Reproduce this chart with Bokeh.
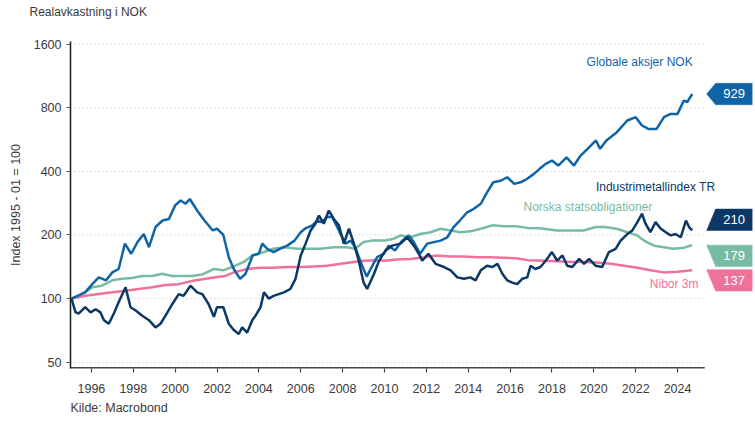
from bokeh.plotting import figure
from bokeh.models import FixedTicker, PrintfTickFormatter, Title
from bokeh.core.properties import value
from bokeh.embed import file_html
from bokeh.resources import INLINE

# ---------------- data (index, 1995-01 = 100) ----------------
global_x = [1995.05, 1995.7, 1996.04, 1996.35, 1996.7, 1997.0, 1997.3, 1997.6, 1997.9, 1998.2,
            1998.5, 1998.75, 1999.06, 1999.4, 1999.7, 2000.0, 2000.26, 2000.5, 2000.7, 2001.05,
            2001.4, 2001.8, 2002.0, 2002.3, 2002.56, 2002.8, 2003.1, 2003.36, 2003.7, 2004.0,
            2004.16, 2004.4, 2004.7, 2005.0, 2005.35, 2005.7, 2006.0, 2006.2, 2006.55, 2006.8,
            2007.0, 2007.26, 2007.5, 2007.74, 2007.9, 2008.14, 2008.38, 2008.6, 2008.86, 2009.15,
            2009.45, 2009.65, 2009.97, 2010.2, 2010.5, 2010.85, 2011.16, 2011.4, 2011.7, 2012.04,
            2012.36, 2012.68, 2013.0, 2013.3, 2013.6, 2013.95, 2014.27, 2014.6, 2014.9, 2015.2,
            2015.55, 2015.86, 2016.2, 2016.5, 2016.8, 2017.14, 2017.4, 2017.7, 2018.0, 2018.3,
            2018.7, 2019.05, 2019.37, 2019.7, 2020.1, 2020.3, 2020.6, 2021.1, 2021.6, 2022.0,
            2022.3, 2022.6, 2023.0, 2023.35, 2023.67, 2024.0, 2024.3, 2024.46, 2024.7]
global_y = [100, 107, 117, 126, 122, 133, 138, 182, 163, 185,
            202, 175, 218, 234, 238, 276, 291, 281, 296, 261,
            234, 210, 214, 200, 157, 138, 124, 131, 160, 163,
            182, 172, 166, 172, 178, 188, 206, 214, 222, 234,
            230, 243, 243, 218, 202, 182, 188, 175, 149, 127,
            145, 157, 163, 178, 169, 188, 199, 185, 163, 182,
            185, 188, 195, 218, 234, 256, 266, 281, 318, 355,
            361, 375, 349, 355, 368, 389, 410, 434, 450, 426,
            466, 426, 475, 511, 560, 511, 560, 613, 696, 722,
            659, 635, 635, 722, 748, 748, 865, 850, 929]

metal_x = [1995.05, 1995.24, 1995.4, 1995.7, 1995.96, 1996.2, 1996.43, 1996.6, 1996.83, 1997.07,
           1997.3, 1997.63, 1997.87, 1998.1, 1998.43, 1998.75, 1999.06, 1999.3, 1999.54, 1999.86,
           2000.17, 2000.4, 2000.73, 2001.05, 2001.3, 2001.6, 2001.85, 2002.0, 2002.3, 2002.56,
           2002.8, 2003.04, 2003.2, 2003.44, 2003.68, 2003.84, 2004.08, 2004.24, 2004.47, 2004.7,
           2004.95, 2005.2, 2005.5, 2005.75, 2006.0, 2006.23, 2006.47, 2006.7, 2006.87, 2007.1,
           2007.34, 2007.58, 2007.82, 2008.06, 2008.3, 2008.54, 2008.77, 2009.0, 2009.17, 2009.5,
           2009.73, 2010.05, 2010.37, 2010.77, 2011.08, 2011.4, 2011.64, 2011.8, 2012.1, 2012.44,
           2012.84, 2013.16, 2013.48, 2013.8, 2014.1, 2014.35, 2014.6, 2014.9, 2015.15, 2015.4,
           2015.63, 2015.86, 2016.1, 2016.34, 2016.58, 2016.82, 2016.98, 2017.2, 2017.45, 2017.7,
           2018.0, 2018.25, 2018.5, 2018.73, 2018.97, 2019.3, 2019.53, 2019.77, 2020.08, 2020.4,
           2020.72, 2021.04, 2021.28, 2021.6, 2021.84, 2022.08, 2022.3, 2022.47, 2022.7, 2022.95,
           2023.2, 2023.44, 2023.67, 2023.9, 2024.15, 2024.4, 2024.55, 2024.7]
metal_y = [100, 86, 85, 91, 86, 89, 86, 79, 76, 85,
           96, 113, 91, 88, 83, 79, 73, 76, 83, 94,
           105, 103, 115, 107, 105, 94, 82, 91, 91, 76,
           71, 68, 73, 69, 79, 83, 91, 107, 100, 103,
           105, 107, 111, 124, 160, 182, 210, 226, 247, 226,
           261, 238, 222, 182, 214, 182, 151, 119, 111, 131,
           150, 169, 178, 182, 195, 178, 163, 151, 163, 146,
           141, 136, 126, 124, 126, 122, 136, 143, 141, 146,
           131, 122, 119, 117, 124, 126, 143, 138, 141, 151,
           166, 151, 160, 143, 141, 154, 146, 154, 143, 141,
           166, 172, 188, 202, 210, 230, 252, 226, 206, 230,
           214, 206, 199, 202, 195, 234, 218, 210]

bonds_x = [1995.05, 1995.56, 1996.04, 1996.5, 1997.0, 1997.47, 1997.95, 1998.43, 1998.9, 1999.38,
           1999.86, 2000.34, 2000.8, 2001.3, 2001.85, 2002.3, 2002.88, 2003.28, 2003.68, 2004.24,
           2004.7, 2005.2, 2005.83, 2006.47, 2006.94, 2007.58, 2008.2, 2008.6, 2009.0, 2009.4,
           2010.0, 2010.45, 2010.77, 2011.25, 2011.7, 2012.2, 2012.68, 2013.16, 2013.63, 2014.1,
           2014.6, 2015.15, 2015.7, 2016.3, 2016.82, 2017.4, 2017.6, 2018.25, 2018.9, 2019.5,
           2020.1, 2020.5, 2021.1, 2021.6, 2022.08, 2022.4, 2022.87, 2023.35, 2023.8, 2024.3,
           2024.7]
bonds_y = [100, 105, 113, 115, 122, 124, 125, 128, 128, 131,
           128, 128, 128, 130, 138, 136, 143, 149, 160, 166,
           172, 175, 172, 172, 172, 175, 175, 172, 185, 188,
           188, 192, 199, 195, 202, 206, 214, 210, 206, 208,
           214, 222, 220, 220, 216, 215, 214, 210, 210, 210,
           218, 218, 214, 206, 199, 188, 178, 175, 172, 174,
           179]

nibor_x = [1995.05, 1995.7, 1996.35, 1997.0, 1997.63, 1998.26, 1998.9, 1999.54, 2000.17, 2000.8,
           2001.45, 2001.93, 2002.4, 2002.8, 2003.44, 2004.08, 2004.7, 2005.35, 2006.0, 2006.63,
           2007.26, 2007.9, 2008.54, 2009.0, 2009.65, 2010.0, 2010.6, 2011.25, 2011.9, 2012.5,
           2013.16, 2013.8, 2014.43, 2015.07, 2015.7, 2016.3, 2016.82, 2017.6, 2018.25, 2018.9,
           2019.5, 2020.15, 2020.8, 2021.44, 2022.08, 2022.7, 2023.35, 2024.0, 2024.7]
nibor_y = [100, 103, 105, 107, 109, 111, 113, 116, 117, 121,
           124, 126, 128, 133, 138, 140, 140, 141, 141, 142,
           143, 146, 149, 151, 152, 151, 153, 154, 157, 160,
           158, 158, 157, 157, 156, 155, 152, 151, 150, 149,
           149, 148, 146, 143, 140, 136, 133, 134, 136]

series_names = ["Globale aksjer NOK", "Industrimetallindex TR",
                "Norska statsobligationer", "Nibor 3m"]
end_values = [929, 210, 179, 137]
year_ticks = [1996, 1998, 2000, 2002, 2004, 2006, 2008, 2010,
              2012, 2014, 2016, 2018, 2020, 2022, 2024]
y_ticks = [50, 100, 200, 400, 800, 1600]
title_text = "Realavkastning i NOK"
source_text = "Kilde: Macrobond"
y_label = "Index 1995 - 01 = 100"

# ---------------- style / layout ----------------
FONT = "Liberation Sans"
TXT = "#3a3a3a"
C_GLOBAL = "#0f64a8"
C_METAL = "#0c3865"
C_BONDS = "#78bba3"
C_NIBOR = "#f0729a"
X0, X1 = 1995.0, 2027.58
Y0, Y1 = 46.67, 1646.0
X_AXIS_END = 2025.3
PX = 63.6  # pixels per doubling

p = figure(width=755, height=421, x_range=(X0, X1), y_range=(Y0, Y1),
           y_axis_type="log", output_backend="svg", toolbar_location=None,
           min_border_left=70, min_border_right=3, min_border_top=41,
           min_border_bottom=53)
p.outline_line_color = None
p.grid.visible = False
p.background_fill_color = "white"
p.border_fill_color = "white"

# real title (outermost) and an invisible spacer between it and the frame
p.title.text = title_text
p.title.align = "left"
p.title.offset = -41
p.title.text_font = FONT
p.title.text_font_size = "12px"
p.title.text_font_style = "normal"
p.title.text_color = TXT
p.title.standoff = 2
p.add_layout(Title(text=" ", text_font_size="1px", standoff=19), "above")

# x axis
xa = p.xaxis[0]
xa.ticker = FixedTicker(ticks=year_ticks)
xa.axis_line_color = None
xa.major_tick_line_color = "#444444"
xa.major_tick_line_width = 1.2
xa.major_tick_out = 4
xa.major_tick_in = 0
xa.minor_tick_line_color = None
xa.major_label_text_font = FONT
xa.major_label_text_font_size = "12.5px"
xa.major_label_text_color = TXT
xa.major_label_standoff = 11

p.add_layout(Title(text=source_text, align="left", text_font=FONT,
                   text_font_size="12.5px", text_font_style="normal",
                   text_color=TXT, standoff=7), "below")

# y axis
ya = p.yaxis[0]
ya.ticker = FixedTicker(ticks=y_ticks)
ya.formatter = PrintfTickFormatter(format="%d")
ya.axis_line_color = "#1a1a1a"
ya.axis_line_width = 1.5
ya.major_tick_line_color = "#555555"
ya.major_tick_line_width = 1.2
ya.major_tick_out = 4
ya.major_tick_in = 0
ya.minor_tick_line_color = None
ya.major_label_text_font = FONT
ya.major_label_text_font_size = "12.5px"
ya.major_label_text_color = TXT
ya.major_label_standoff = 5
ya.axis_label = y_label
ya.axis_label_text_font = FONT
ya.axis_label_text_font_size = "12.5px"
ya.axis_label_text_font_style = "normal"
ya.axis_label_text_color = TXT
ya.axis_label_standoff = 8

# dotted gridlines and x baseline (stop before the value tags)
p.segment(x0=[X0] * len(y_ticks), y0=y_ticks, x1=[X_AXIS_END] * len(y_ticks), y1=y_ticks,
          line_color="#bdbdbd", line_width=1, line_dash="1 3")
p.segment(x0=[X0], y0=[Y0], x1=[X_AXIS_END], y1=[Y0], line_color="#444444", line_width=3)

# series
p.line(nibor_x, nibor_y, line_color=C_NIBOR, line_width=2.5)
p.line(bonds_x, bonds_y, line_color=C_BONDS, line_width=2.5)
p.line(global_x, global_y, line_color=C_GLOBAL, line_width=2.5)
p.line(metal_x, metal_y, line_color=C_METAL, line_width=2.5)

# series labels
label_pos = [(2024.72, 1310, "right"), (2020.1, 336, "left"),
             (2022.79, 270, "right"), (2025.0, 117.4, "right")]
label_colors = [C_GLOBAL, C_METAL, C_BONDS, C_NIBOR]
for name, (lx, ly, al), col in zip(series_names, label_pos, label_colors):
    p.text(x=[lx], y=[ly], text=[name], text_color=col, text_align=al,
           text_baseline="middle", text_font=value(FONT), text_font_size="12px")

# value tags
tag_shift_px = [0, -10.7, 10.7, 10.7]
HALF = 10.7
x_tip, x_box, x_right = 2025.39, 2025.82, X1
for v, s, col in zip(end_values, tag_shift_px, label_colors):
    c = v * 2 ** (-s / PX)
    top = c * 2 ** (HALF / PX)
    bot = c * 2 ** (-HALF / PX)
    p.patch(x=[x_tip, x_box, x_right, x_right, x_box], y=[v, top, top, bot, bot],
            fill_color=col, line_color=col, line_width=0.5)
    p.text(x=[(x_box + x_right) / 2], y=[c], text=[str(v)], text_color="white",
           text_align="center", text_baseline="middle", text_font=value(FONT),
           text_font_size="13px")

open("out.html", "w").write(file_html(p, INLINE))
